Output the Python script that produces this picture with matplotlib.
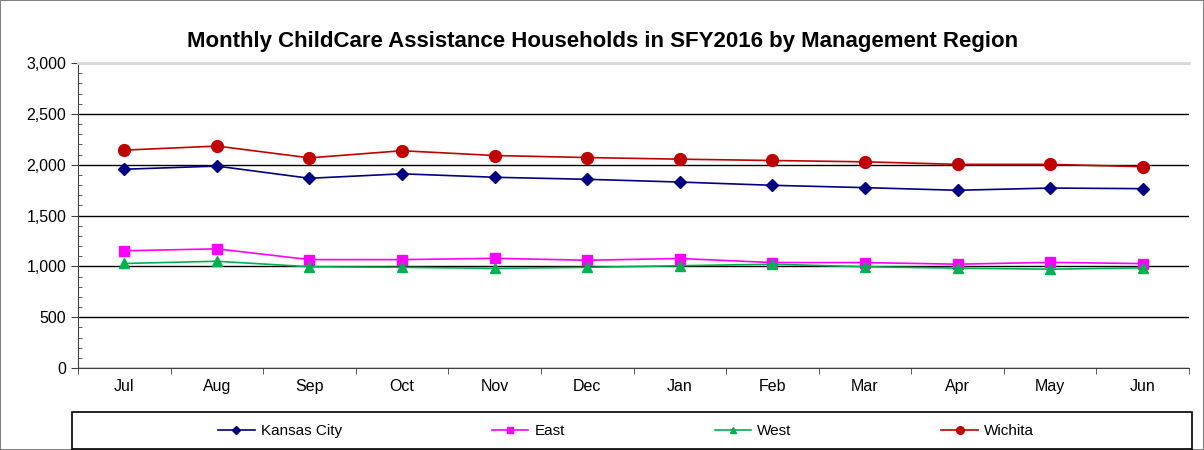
import matplotlib.pyplot as plt
from matplotlib.patches import Rectangle
from matplotlib.ticker import MultipleLocator, FuncFormatter

plt.rcParams['font.family'] = ['Liberation Sans', 'DejaVu Sans']

# Datos
months = ['Jul', 'Aug', 'Sep', 'Oct', 'Nov', 'Dec', 'Jan', 'Feb', 'Mar', 'Apr', 'May', 'Jun']
kansas_city = [1955, 1986, 1866, 1910, 1876, 1856, 1829, 1797, 1774, 1748, 1770, 1764]
east = [1153, 1172, 1066, 1066, 1079, 1060, 1077, 1037, 1037, 1021, 1039, 1027]
west = [1028, 1050, 996, 990, 980, 990, 1006, 1021, 996, 982, 972, 985]
wichita = [2143, 2183, 2067, 2137, 2090, 2070, 2054, 2041, 2028, 2003, 2003, 1980]

fig = plt.figure(figsize=(12.04, 4.5), dpi=100)
fig.patch.set_edgecolor('#808080')
fig.patch.set_linewidth(1.2)

ax = fig.add_axes([78 / 1204, 1 - 368 / 450, (1189 - 78) / 1204, (368 - 63) / 450])

x = range(len(months))
ax.plot(x, kansas_city, color='#000080', marker='D', markersize=6.5, lw=1.2, label='Kansas City')
ax.plot(x, east, color='#FF00FF', marker='s', markersize=7.5, lw=1.2, label='East')
ax.plot(x, west, color='#00B050', marker='^', markersize=7.5, lw=1.2, label='West')
ax.plot(x, wichita, color='#C00000', marker='o', markersize=8.5, lw=1.2, label='Wichita')

ax.set_xlim(-0.5, len(months) - 0.5)
ax.set_ylim(0, 3000)

ax.set_xticks(list(x))
ax.set_xticklabels(months, fontsize=11.5)
ax.set_xticks([i + 0.5 for i in range(-1, len(months))], minor=True)
ax.tick_params(axis='x', which='major', length=0, pad=8)
ax.tick_params(axis='x', which='minor', direction='out', length=4, color='#404040')

ax.yaxis.set_major_locator(MultipleLocator(500))
ax.yaxis.set_minor_locator(MultipleLocator(100))
ax.yaxis.set_major_formatter(FuncFormatter(lambda v, p: f'{int(v):,}'))
ax.tick_params(axis='y', which='major', direction='out', length=5, labelsize=11.5, color='#404040')
ax.tick_params(axis='y', which='minor', direction='in', length=3, color='#404040')

ax.grid(axis='y', which='major', color='#000000', lw=1)
ax.set_axisbelow(True)
ax.spines['right'].set_visible(False)
ax.spines['top'].set_color('#d9d9d9')
ax.spines['top'].set_linewidth(2)
ax.spines['left'].set_color('#404040')
ax.spines['bottom'].set_color('#404040')

fig.text(603 / 1204, 1 - 42 / 450,
         'Monthly ChildCare Assistance Households in SFY2016 by Management Region',
         ha='center', va='center', fontsize=16, fontweight='bold')

# Cuadro de la leyenda
fig.patches.append(Rectangle((72 / 1204, 1 - 449 / 450), (1192 - 72) / 1204, (449 - 412) / 450,
                             transform=fig.transFigure, fill=False, edgecolor='#000000', lw=1.2))
fig.legend(loc='center', bbox_to_anchor=(0.52, 1 - 431 / 450), ncol=4, frameon=False,
           fontsize=11, columnspacing=9.8, handlelength=2.4, handletextpad=0.4, markerscale=0.65)

plt.savefig('out.png', dpi=100)
